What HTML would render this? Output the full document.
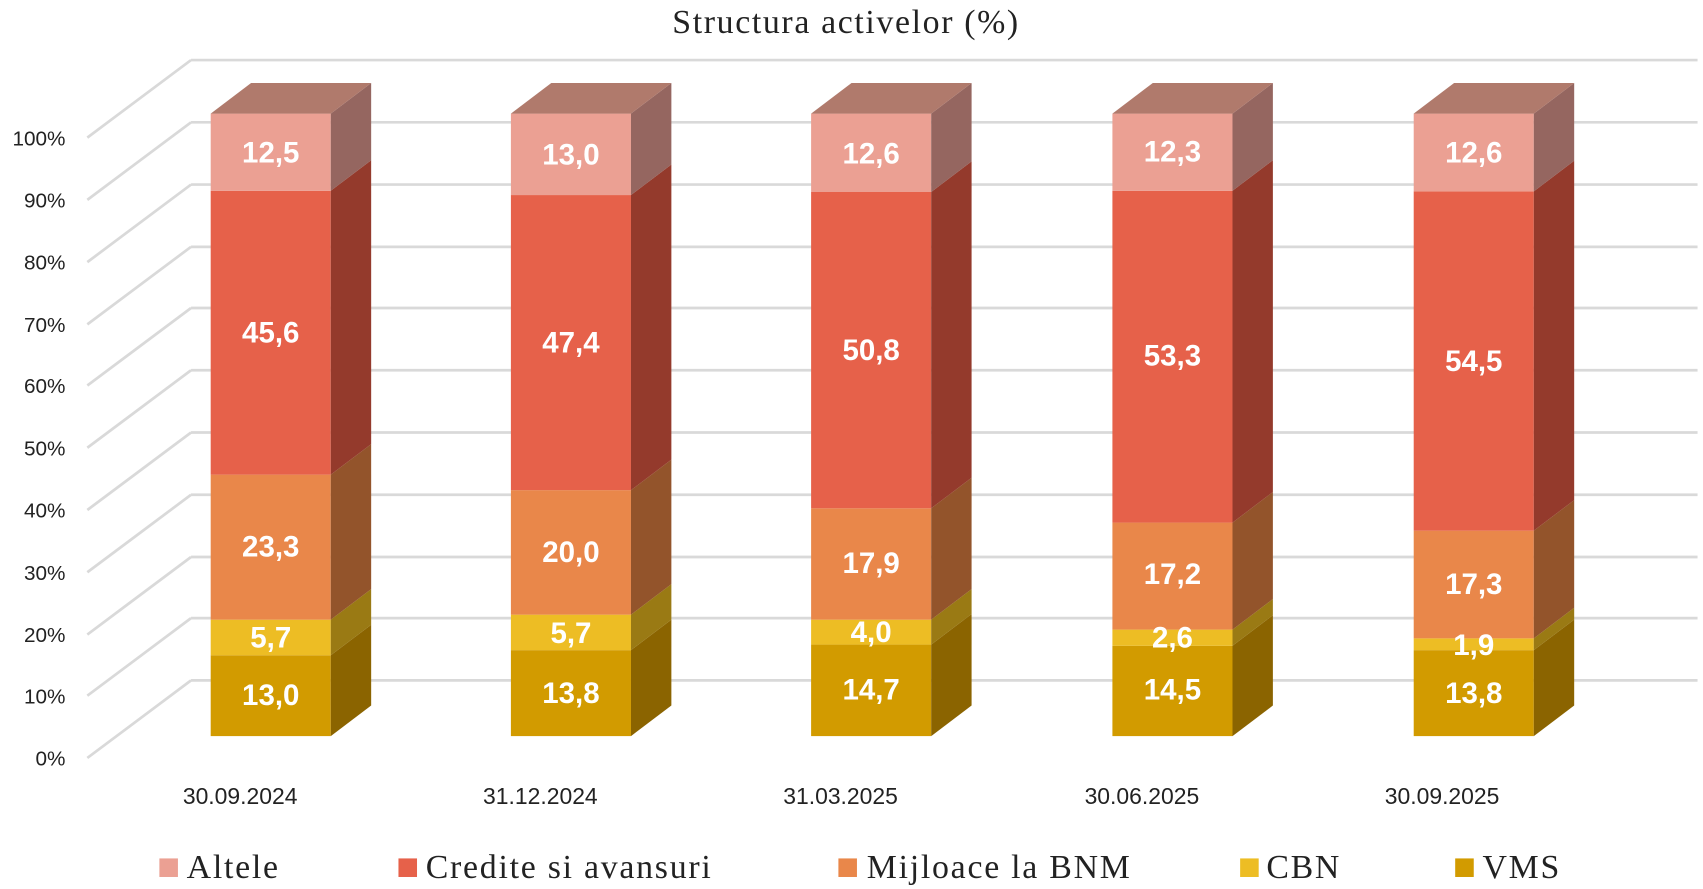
<!DOCTYPE html>
<html><head><meta charset="utf-8"><style>
html,body{margin:0;padding:0;background:#fff;}
svg{display:block;}
.t{font-family:"Liberation Sans",sans-serif;font-size:19px;fill:#222;}
.d{font-family:"Liberation Sans",sans-serif;font-size:27px;font-weight:bold;fill:#fff;text-anchor:middle;dominant-baseline:central;}
.c{font-family:"Liberation Sans",sans-serif;font-size:21px;fill:#222;text-anchor:middle;}
.l{font-family:"Liberation Serif",serif;font-size:31px;letter-spacing:1.6px;fill:#222;}
</style></head><body>
<svg width="1703" height="889" viewBox="0 0 1560 814" preserveAspectRatio="none" xmlns="http://www.w3.org/2000/svg">
<text x="775" y="30" text-anchor="middle" style="font-family:'Liberation Serif',serif;font-size:31px;letter-spacing:1.5px;fill:#222">Structura activelor (%)</text>
<g stroke="#D9D9D9" stroke-width="2.5" fill="none">
<path d="M175 55H1555M175 112H1555M175 169H1555M175 226H1555M175 282H1555M175 339H1555M175 396H1555M175 453H1555M175 510H1555M175 566H1555M175 623H1555"/>
<path d="M175 55L80 126M175 112L80 183M175 169L80 240M175 226L80 297M175 282L80 353M175 339L80 410M175 396L80 467M175 453L80 524M175 510L80 581M175 566L80 637M175 623L80 694"/>
</g>
<g class="t" text-anchor="end">
<text x="60" y="133">100%</text><text x="60" y="190">90%</text><text x="60" y="247">80%</text><text x="60" y="304">70%</text><text x="60" y="360">60%</text><text x="60" y="417">50%</text><text x="60" y="474">40%</text><text x="60" y="531">30%</text><text x="60" y="588">20%</text><text x="60" y="644">10%</text><text x="60" y="701">0%</text>
</g>
<g>
<rect x="193" y="600" width="110" height="74" fill="#D29B00"/><polygon points="303,600 340,572 340,646 303,674" fill="#8B6400"/>
<rect x="193" y="567.4" width="110" height="32.6" fill="#EDBD24"/><polygon points="303,567.4 340,539.4 340,572 303,600" fill="#9A7A14"/>
<rect x="193" y="434.6" width="110" height="132.8" fill="#E9874A"/><polygon points="303,434.6 340,406.6 340,539.4 303,567.4" fill="#93542B"/>
<rect x="193" y="174.7" width="110" height="259.9" fill="#E6614A"/><polygon points="303,174.7 340,146.7 340,406.6 303,434.6" fill="#943A2C"/>
<rect x="193" y="104" width="110" height="70.7" fill="#EBA093"/><polygon points="303,104 340,76 340,146.7 303,174.7" fill="#956660"/>
<polygon points="193,104 230,76 340,76 303,104" fill="#B07A6C"/>
<text class="d" x="248" y="637">13,0</text><text class="d" x="248" y="584">5,7</text><text class="d" x="248" y="501">23,3</text><text class="d" x="248" y="305">45,6</text><text class="d" x="248" y="140">12,5</text>
</g>
<g>
<rect x="468" y="595.3" width="110" height="78.7" fill="#D29B00"/><polygon points="578,595.3 615,567.3 615,646 578,674" fill="#8B6400"/>
<rect x="468" y="562.8" width="110" height="32.5" fill="#EDBD24"/><polygon points="578,562.8 615,534.8 615,567.3 578,595.3" fill="#9A7A14"/>
<rect x="468" y="448.8" width="110" height="114" fill="#E9874A"/><polygon points="578,448.8 615,420.8 615,534.8 578,562.8" fill="#93542B"/>
<rect x="468" y="178.6" width="110" height="270.2" fill="#E6614A"/><polygon points="578,178.6 615,150.6 615,420.8 578,448.8" fill="#943A2C"/>
<rect x="468" y="104" width="110" height="74.6" fill="#EBA093"/><polygon points="578,104 615,76 615,150.6 578,178.6" fill="#956660"/>
<polygon points="468,104 505,76 615,76 578,104" fill="#B07A6C"/>
<text class="d" x="523" y="635">13,8</text><text class="d" x="523" y="580">5,7</text><text class="d" x="523" y="506">20,0</text><text class="d" x="523" y="314">47,4</text><text class="d" x="523" y="142">13,0</text>
</g>
<g>
<rect x="743" y="590.2" width="110" height="83.8" fill="#D29B00"/><polygon points="853,590.2 890,562.2 890,646 853,674" fill="#8B6400"/>
<rect x="743" y="567.4" width="110" height="22.8" fill="#EDBD24"/><polygon points="853,567.4 890,539.4 890,562.2 853,590.2" fill="#9A7A14"/>
<rect x="743" y="465.4" width="110" height="102" fill="#E9874A"/><polygon points="853,465.4 890,437.4 890,539.4 853,567.4" fill="#93542B"/>
<rect x="743" y="175.8" width="110" height="289.6" fill="#E6614A"/><polygon points="853,175.8 890,147.8 890,437.4 853,465.4" fill="#943A2C"/>
<rect x="743" y="104" width="110" height="71.8" fill="#EBA093"/><polygon points="853,104 890,76 890,147.8 853,175.8" fill="#956660"/>
<polygon points="743,104 780,76 890,76 853,104" fill="#B07A6C"/>
<text class="d" x="798" y="632">14,7</text><text class="d" x="798" y="579">4,0</text><text class="d" x="798" y="516">17,9</text><text class="d" x="798" y="321">50,8</text><text class="d" x="798" y="141">12,6</text>
</g>
<g>
<rect x="1019" y="591.3" width="110" height="82.7" fill="#D29B00"/><polygon points="1129,591.3 1166,563.3 1166,646 1129,674" fill="#8B6400"/>
<rect x="1019" y="576.5" width="110" height="14.8" fill="#EDBD24"/><polygon points="1129,576.5 1166,548.5 1166,563.3 1129,591.3" fill="#9A7A14"/>
<rect x="1019" y="478.5" width="110" height="98" fill="#E9874A"/><polygon points="1129,478.5 1166,450.5 1166,548.5 1129,576.5" fill="#93542B"/>
<rect x="1019" y="174.7" width="110" height="303.8" fill="#E6614A"/><polygon points="1129,174.7 1166,146.7 1166,450.5 1129,478.5" fill="#943A2C"/>
<rect x="1019" y="104" width="110" height="70.7" fill="#EBA093"/><polygon points="1129,104 1166,76 1166,146.7 1129,174.7" fill="#956660"/>
<polygon points="1019,104 1056,76 1166,76 1129,104" fill="#B07A6C"/>
<text class="d" x="1074" y="632">14,5</text><text class="d" x="1074" y="584">2,6</text><text class="d" x="1074" y="526">17,2</text><text class="d" x="1074" y="326">53,3</text><text class="d" x="1074" y="139">12,3</text>
</g>
<g>
<rect x="1295" y="595.3" width="110" height="78.7" fill="#D29B00"/><polygon points="1405,595.3 1442,567.3 1442,646 1405,674" fill="#8B6400"/>
<rect x="1295" y="584.5" width="110" height="10.8" fill="#EDBD24"/><polygon points="1405,584.5 1442,556.5 1442,567.3 1405,595.3" fill="#9A7A14"/>
<rect x="1295" y="485.9" width="110" height="98.6" fill="#E9874A"/><polygon points="1405,485.9 1442,457.9 1442,556.5 1405,584.5" fill="#93542B"/>
<rect x="1295" y="175.2" width="110" height="310.7" fill="#E6614A"/><polygon points="1405,175.2 1442,147.2 1442,457.9 1405,485.9" fill="#943A2C"/>
<rect x="1295" y="104" width="110" height="71.2" fill="#EBA093"/><polygon points="1405,104 1442,76 1442,147.2 1405,175.2" fill="#956660"/>
<polygon points="1295,104 1332,76 1442,76 1405,104" fill="#B07A6C"/>
<text class="d" x="1350" y="635">13,8</text><text class="d" x="1350" y="591">1,9</text><text class="d" x="1350" y="535">17,3</text><text class="d" x="1350" y="331">54,5</text><text class="d" x="1350" y="140">12,6</text>
</g>
<g class="c">
<text x="220" y="736">30.09.2024</text><text x="495" y="736">31.12.2024</text><text x="770" y="736">31.03.2025</text><text x="1046" y="736">30.06.2025</text><text x="1321" y="736">30.09.2025</text>
</g>
<rect x="146" y="786" width="17" height="17" fill="#EBA093"/><text class="l" x="171" y="804">Altele</text>
<rect x="365" y="786" width="17" height="17" fill="#E6614A"/><text class="l" x="390" y="804">Credite si avansuri</text>
<rect x="768" y="786" width="17" height="17" fill="#E9874A"/><text class="l" x="794" y="804">Mijloace la BNM</text>
<rect x="1136" y="786" width="17" height="17" fill="#EDBD24"/><text class="l" x="1160" y="804">CBN</text>
<rect x="1333" y="786" width="17" height="17" fill="#D29B00"/><text class="l" x="1358" y="804">VMS</text>
</svg>
</body></html>
